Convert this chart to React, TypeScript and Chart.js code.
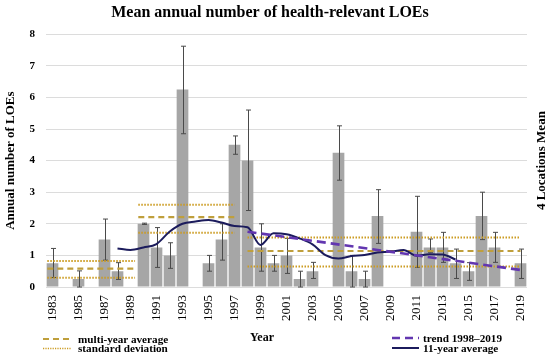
import React, { useEffect, useRef } from 'react';
import { Chart, registerables } from 'chart.js';

Chart.register(...registerables);

const years = [
  1983, 1984, 1985, 1986, 1987, 1988, 1989, 1990, 1991, 1992, 1993, 1994, 1995,
  1996, 1997, 1998, 1999, 2000, 2001, 2002, 2003, 2004, 2005, 2006, 2007, 2008,
  2009, 2010, 2011, 2012, 2013, 2014, 2015, 2016, 2017, 2018, 2019,
];

const meanLOEs = [
  0.75, 0, 0.25, 0, 1.5, 0.5, 0, 2.0, 1.25, 1.0, 6.25, 0, 0.75,
  1.5, 4.5, 4.0, 1.25, 0.75, 1.0, 0.25, 0.5, 0, 4.25, 0.5, 0.25, 2.25,
  0, 0, 1.75, 1.25, 1.25, 0.75, 0.5, 2.25, 1.25, 0, 0.75,
];

const errLow = [
  0.3, null, 0.0, null, 0.85, 0.24, null, 1.98, 0.62, 0.59, 4.85, null, 0.5,
  0.85, 4.2, 2.42, 0.5, 0.5, 0.43, 0.0, 0.27, null, 3.38, 0.0, 0.0, 1.38,
  null, null, 0.62, 1.1, 0.78, 0.27, 0.21, 1.5, 0.78, null, 0.27,
];

const errHigh = [
  1.22, null, 0.51, null, 2.15, 0.77, null, 2.02, 1.88, 1.4, 7.62, null, 1.0,
  2.0, 4.78, 5.6, 2.0, 1.0, 1.54, 0.5, 0.78, null, 5.1, 1.0, 0.5, 3.08,
  null, null, 2.87, 1.52, 1.73, 1.2, 0.77, 3.0, 1.73, null, 1.2,
];

// multi-year periods
const periodStart = [1982.6, 1989.6, 1998.0];
const periodEnd = [1989.35, 1997.0, 2019.0];
const periodMean = [0.58, 2.21, 1.14];
const periodSdLow = [0.29, 1.72, 0.65];
const periodSdHigh = [0.82, 2.6, 1.57];

// 11-year moving average
const avgYears = [
  1988, 1989, 1990, 1991, 1992, 1993, 1994, 1995, 1996, 1997, 1998, 1999, 2000,
  2001, 2002, 2003, 2004, 2005, 2006, 2007, 2008, 2009, 2010, 2011, 2012, 2013, 2014,
];
const avg11 = [
  1.22, 1.17, 1.25, 1.36, 1.75, 2.0, 2.07, 2.12, 2.04, 1.93, 1.89, 1.33, 1.7,
  1.67, 1.54, 1.35, 1.01, 0.9, 0.98, 1.01, 1.09, 1.12, 1.17, 0.99, 1.04, 1.03, 0.87,
];

// trend 1998–2019
const trendYears = [1998, 2019];
const trendValues = [1.75, 0.54];

const yTicks = [0, 1, 2, 3, 4, 5, 6, 7, 8];

const FONT = "'Liberation Serif', 'Times New Roman', serif";
const GOLD_DASH = '#bf9f3c';
const GOLD_DOT = '#cc9c22';
const PURPLE = '#6236b0';
const NAVY = '#1b1b5c';

const errorBarPlugin = {
  id: 'errorBars',
  afterDatasetDraw(chart: any, args: any) {
    if (args.index !== 0) return;
    const ctx = chart.ctx;
    const xs = chart.scales.x;
    const ys = chart.scales.y;
    ctx.save();
    ctx.strokeStyle = '#4a4a4a';
    ctx.lineWidth = 1;
    for (let i = 0; i < years.length; i++) {
      const lo = errLow[i];
      const hi = errHigh[i];
      if (lo === null || hi === null) continue;
      const x = Math.round(xs.getPixelForValue(i)) + 0.5;
      const y1 = ys.getPixelForValue(lo);
      const y2 = ys.getPixelForValue(hi);
      ctx.beginPath();
      ctx.moveTo(x, y1);
      ctx.lineTo(x, y2);
      ctx.moveTo(x - 2.5, y1);
      ctx.lineTo(x + 2.5, y1);
      ctx.moveTo(x - 2.5, y2);
      ctx.lineTo(x + 2.5, y2);
      ctx.stroke();
    }
    ctx.restore();
  },
};

const rightTitlePlugin = {
  id: 'rightTitle',
  afterDraw(chart: any) {
    const ctx = chart.ctx;
    const area = chart.chartArea;
    ctx.save();
    ctx.translate(542, (area.top + area.bottom) / 2);
    ctx.rotate(-Math.PI / 2);
    ctx.font = `bold 13px ${FONT}`;
    ctx.fillStyle = '#000';
    ctx.textAlign = 'center';
    ctx.textBaseline = 'middle';
    ctx.fillText('4 Locations Mean', 0, 0);
    ctx.restore();
  },
};

export default function App() {
  const canvasRef = useRef<HTMLCanvasElement>(null);

  useEffect(() => {
    if (!canvasRef.current) return;
    const lineSets: any[] = [];
    for (let p = 0; p < periodStart.length; p++) {
      lineSets.push({
        type: 'line',
        xAxisID: 'x2',
        data: [
          { x: periodStart[p], y: periodMean[p] },
          { x: periodEnd[p], y: periodMean[p] },
        ],
        borderColor: GOLD_DASH,
        borderWidth: 2.2,
        borderDash: [6, 4],
        pointRadius: 0,
        order: 1,
      });
      [periodSdLow[p], periodSdHigh[p]].forEach((v) =>
        lineSets.push({
          type: 'line',
          xAxisID: 'x2',
          data: [
            { x: periodStart[p], y: v },
            { x: periodEnd[p], y: v },
          ],
          borderColor: GOLD_DOT,
          borderWidth: 2,
          borderDash: [1.5, 1.5],
          pointRadius: 0,
          order: 1,
        })
      );
    }
    lineSets.push({
      type: 'line',
      xAxisID: 'x2',
      data: trendYears.map((x, i) => ({ x, y: trendValues[i] })),
      borderColor: PURPLE,
      borderWidth: 2.6,
      borderDash: [9, 5],
      pointRadius: 0,
      order: 0,
    });
    lineSets.push({
      type: 'line',
      xAxisID: 'x2',
      data: avgYears.map((x, i) => ({ x, y: avg11[i] })),
      borderColor: NAVY,
      borderWidth: 2,
      cubicInterpolationMode: 'monotone',
      pointRadius: 0,
      order: 0,
    });

    const chart = new Chart(canvasRef.current, {
      type: 'bar',
      data: {
        labels: years.map(String),
        datasets: [
          {
            type: 'bar',
            data: meanLOEs,
            backgroundColor: '#a6a6a6',
            barPercentage: 0.9,
            categoryPercentage: 1.0,
            grouped: false,
            order: 10,
          } as any,
          ...lineSets,
        ],
      },
      options: {
        responsive: false,
        animation: false,
        events: [],
        layout: { padding: { left: 0, right: 10, top: 0, bottom: 0 } },
        plugins: {
          legend: { display: false },
          tooltip: { enabled: false },
          title: {
            display: true,
            text: 'Mean annual number of health-relevant LOEs',
            color: '#000',
            font: { family: FONT, size: 16, weight: 'bold' },
            padding: { top: 3, bottom: 12 },
          },
        },
        scales: {
          x: {
            type: 'category',
            offset: true,
            grid: { display: false, drawTicks: false },
            border: { display: false },
            ticks: {
              autoSkip: false,
              minRotation: 90,
              maxRotation: 90,
              padding: 8,
              color: '#000',
              font: { family: FONT, size: 13 },
              callback: (_v: any, i: number) => (i % 2 === 0 ? String(years[i]) : ''),
            },
            afterFit: (s: any) => {
              s.height = 71;
            },
          },
          x2: {
            type: 'linear',
            display: false,
            offset: false,
            min: years[0] - 0.5,
            max: years[years.length - 1] + 0.5,
          },
          y: {
            min: 0,
            max: 8,
            afterBuildTicks: (s: any) => {
              s.ticks = yTicks.map((v) => ({ value: v }));
            },
            grid: { color: '#dcdcdc', drawTicks: false, lineWidth: 1 },
            border: { display: false },
            ticks: {
              padding: 11,
              color: '#000',
              font: { family: FONT, size: 11, weight: 'bold' },
            },
            title: {
              display: true,
              text: 'Annual number of LOEs',
              color: '#000',
              font: { family: FONT, size: 13, weight: 'bold' },
              padding: { top: 3, bottom: 0 },
            },
            afterFit: (s: any) => {
              s.width = 46;
            },
          },
          y2: {
            position: 'right',
            min: 0,
            max: 8,
            grid: { display: false, drawTicks: false },
            border: { display: false },
            ticks: { display: false },
            afterFit: (s: any) => {
              s.width = 13;
            },
          },
        },
      },
      plugins: [errorBarPlugin, rightTitlePlugin],
    } as any);
    return () => chart.destroy();
  }, []);

  const txt: React.CSSProperties = {
    position: 'absolute',
    fontFamily: FONT,
    fontWeight: 'bold',
    fontSize: 11.2,
    lineHeight: '12px',
    color: '#000',
    whiteSpace: 'nowrap',
  };

  return (
    <div style={{ position: 'fixed', left: 0, top: 0, width: 550, height: 358, background: '#fff' }}>
      <canvas ref={canvasRef} width={550} height={358} style={{ position: 'absolute', left: 0, top: 0 }} />
      <svg width={550} height={358} style={{ position: 'absolute', left: 0, top: 0, pointerEvents: 'none' }}>
        <line x1={43} y1={339} x2={71} y2={339} stroke={GOLD_DASH} strokeWidth={2.2} strokeDasharray="6 4" />
        <line x1={43} y1={348.5} x2={71} y2={348.5} stroke={GOLD_DOT} strokeWidth={1.3} strokeDasharray="1.2 1.2" />
        <line x1={392} y1={338} x2={419} y2={338} stroke={PURPLE} strokeWidth={2.6} strokeDasharray="8 5" />
        <line x1={392} y1={348} x2={419} y2={348} stroke={NAVY} strokeWidth={2} />
      </svg>
      <div style={{ ...txt, left: 78, top: 333 }}>multi-year average</div>
      <div style={{ ...txt, left: 78, top: 342 }}>standard deviation</div>
      <div style={{ ...txt, left: 250, top: 331, fontSize: 12 }}>Year</div>
      <div style={{ ...txt, left: 423, top: 332 }}>trend 1998–2019</div>
      <div style={{ ...txt, left: 423, top: 342 }}>11-year average</div>
    </div>
  );
}
